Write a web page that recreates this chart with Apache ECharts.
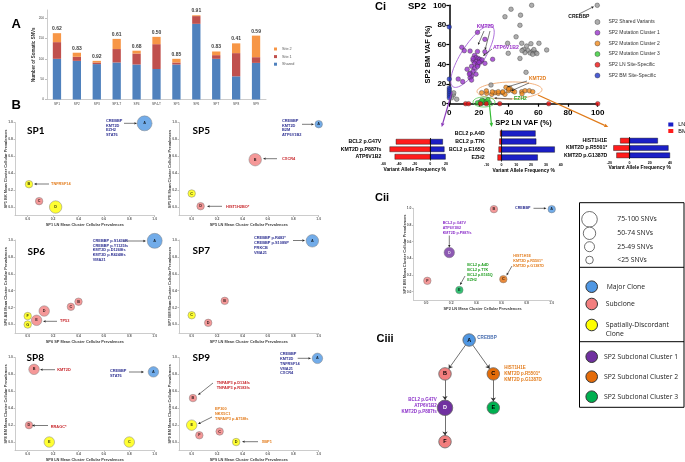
<!DOCTYPE html>
<html><head><meta charset="utf-8">
<script src="https://cdn.jsdelivr.net/npm/echarts@6/dist/echarts.min.js"></script>
<style>html,body{margin:0;padding:0;background:#fff}#c{width:685px;height:462px}</style>
</head><body><div id="c"></div>
<script>
// ---------------- Panel A data ----------------
const samples = ['SP1','SP2','SP3','SP3-T','SP4','SP4-T','SP5','SP6','SP7','SP8','SP9'];
const sharedSNVs = [100,95,87,91,86,75,86,186,100,57,90];
const site1SNVs  = [41,10,4,33,27,61,5,19,9,57,14];
const site2SNVs  = [22,10,4,25,7,18,9,2,9,24,53];
const sharedFraction = ['0.62','0.83','0.92','0.61','0.68','0.50','0.85','0.91','0.83','0.41','0.59'];
const aTicks = [0,50,100,150,200];

// ---------------- Panel B data (cluster id, LN/x prevalence, y prevalence, type, SNVs) ----------------
const sp1Ids=['A','B','C','D'], sp1X=[0.92,0.01,0.09,0.22], sp1Y=[0.99,0.27,0.07,0.00];
const sp1Type=['major','discordant','subclone','discordant'], sp1SNV=[90,15,15,60];
const sp5Ids=['A','B','C','D'], sp5X=[1.00,0.50,0.00,0.07], sp5Y=[0.98,0.56,0.16,0.01];
const sp5Type=['major','subclone','discordant','subclone'], sp5SNV=[15,60,15,15];
const sp6Ids=['A','B','C','D','E','F','G'], sp6X=[1.00,0.40,0.34,0.13,0.07,0.00,0.00], sp6Y=[0.99,0.27,0.21,0.16,0.05,0.10,0.00];
const sp6Type=['major','subclone','subclone','subclone','subclone','discordant','discordant'], sp6SNV=[90,15,15,35,35,15,15];
const sp7Ids=['A','B','C','D'], sp7X=[0.95,0.26,0.00,0.13], sp7Y=[0.99,0.28,0.11,0.02];
const sp7Type=['major','subclone','discordant','subclone'], sp7SNV=[60,15,15,15];
const sp8Ids=['A','B','C','D','E'], sp8X=[0.99,0.05,0.80,0.01,0.17], sp8Y=[0.83,0.86,0.00,0.20,0.00];
const sp8Type=['major','subclone','discordant','subclone','discordant'], sp8SNV=[35,35,35,15,35];
const sp9Ids=['A','B','C','D','E','F'], sp9X=[0.99,0.01,0.22,0.35,0.00,0.06], sp9Y=[0.99,0.52,0.125,0.00,0.20,0.08];
const sp9Type=['major','subclone','subclone','discordant','discordant','subclone'], sp9SNV=[35,15,15,15,35,15];
const ccpTicks=[0,0.2,0.4,0.6,0.8,1.0];

// ---------------- Panel Ci data (LN VAF %, BM VAF %) ----------------
const sharedVar=[[99.7,100],[55.5,100],[41.6,96],[37.5,88.4],[48,90],[47.6,79.7],[45,68],[39.3,61.4],[48.8,61.4],[55,61],[60.4,61.4],[52.1,58.6],[50,55],[53,54],[56,53],[58,52],[54.5,51.5],[51,52],[49,54],[57,55],[59,51],[47.6,46],[56.2,50.2],[65.6,54.6],[39.7,51.2],[51.7,31.9],[28.1,19],[2.7,8.8],[5,4.5],[3,11],[1.5,6]];
const cluster1=[[19,72.5],[24,65.4],[8.4,57.3],[10.1,53.9],[14,53.5],[19,53],[24,52.8],[17,49],[18,47],[19.5,46],[20.5,45],[16,44],[18,43],[21,43],[22,44.5],[17,41],[19,40],[15,38],[17,36],[19,38],[16,33],[14,31],[18,30],[15,28],[29.2,45.1],[24,41],[6,25.1],[9,22.4],[14,26.4],[15,24],[13.5,30.2],[20,42],[16,46],[12,35]];
const cluster2=[[21.8,11.2],[25.2,10.5],[28.6,9.5],[30.8,11.2],[33,10.5],[36,11.2],[37.5,9.5],[25,13],[29,12],[33,12.2],[36,12],[38.2,16.6],[39.8,13.2],[40.9,15.6],[42.7,13.2],[48.8,12.2],[51,13.2],[53.9,13.2],[56.2,12.2],[40,15],[44,12],[49,10]];
const cluster3=[[19,1],[21,2],[22,0.5],[23,3],[24,1.5],[25,2.5],[26,4],[22,3.5],[27,1]];
const lnSpecific=[[11,0],[13,0],[21,0],[25,0],[34,0],[67,0],[100,0]];
const bmSpecific=[[0,78],[0,25],[0,16],[0,14],[0,12],[0,10],[0,8],[0,6]];

// ---------------- VAF butterfly bars ----------------
const c1Genes=['BCL2 p.G47V','KMT2D p.P887fs','ATP6V1B2'], c1LN=[16,18,19.5], c1BM=[44,52,45.5];
const c2Genes=['BCL2 p.A4D','BCL2 p.T7K','BCL2 p.E165Q','EZH2'], c2LN=[23,23.5,36,24.5], c2BM=[1,1.5,2,2.7];
const c3Genes=['HIST1H1E','KMT2D p.R5501*','KMT2D p.G1387D'], c3LN=[28,38.5,40], c3BM=[9.3,16,13];

// ---------------- Panel Cii data ----------------
const ciiIds=['A','B','C','D','E','F'], ciiX=[1.00,0.54,0.615,0.185,0.265,0.01], ciiY=[0.99,0.99,0.15,0.47,0.02,0.13];
const ciiType=['major','subclone','cluster2','cluster1','cluster3','subclone'], ciiSNV=[15,15,15,35,15,15];

// ---------------- Panel Ciii tree ----------------
const treeIds=['A','B','C','D','E','F'], treeCol=[1,0,2,0,2,0], treeDepth=[0,1,1,2,2,3];
const treeType=['major','subclone','cluster2','cluster1','cluster3','subclone'], treeSNV=[15,15,15,35,15,15];
const treeEdges=[['A','B'],['A','C'],['B','D'],['C','E'],['D','F']];

// ================= styling / layout =================
const F='"Liberation Sans", Arial, sans-serif';
const TYPE_COLOR={major:'#4f97e3',subclone:'#f27e7e',discordant:'#ffff00',cluster1:'#7030a0',cluster2:'#e36c09',cluster3:'#00b050'};
function snvSize(n){return n>=75?15:n>=50?12.5:n>=25?10.5:7.5;}
const NAVY='#2e3192', RED='#c8262b', ORANGE='#e37c1c', PURPLE='#9a35c8', GREEN='#2aa52a';

const grids=[
 {left:47,top:10,width:219,height:89.5},
 {left:15,top:122.5,width:139.7,height:93},
 {left:179,top:122.5,width:139.7,height:93},
 {left:15,top:240,width:139.7,height:93},
 {left:179,top:240,width:139.7,height:93},
 {left:15,top:357.5,width:139.7,height:93},
 {left:179,top:357.5,width:139.7,height:93},
 {left:449.3,top:5.3,width:148.4,height:98.4},
 {left:383.3,top:138,width:62.7,height:22.5},
 {left:486.7,top:129.5,width:74,height:32},
 {left:609.3,top:137,width:60.7,height:22},
 {left:413.5,top:208.3,width:138.2,height:91.7},
 {left:445,top:340,width:48.3,height:101.7}
].map(g=>Object.assign({containLabel:false,outerBoundsMode:'none'},g));

const xAxes=[], yAxes=[], series=[];

// ---- A
xAxes.push({gridIndex:0,type:'category',data:samples,axisLine:{lineStyle:{color:'#bfbfbf',width:0.8}},axisTick:{length:2,lineStyle:{color:'#bfbfbf'}},axisLabel:{fontSize:3.2,color:'#404040',margin:3}});
yAxes.push({gridIndex:0,type:'value',min:0,max:220,name:'Number of Somatic SNVs',nameLocation:'middle',nameGap:11,nameMoveOverlap:false,
 nameTextStyle:{fontSize:4.5,color:'#333',fontWeight:'bold'},axisLine:{show:true,lineStyle:{color:'#bfbfbf',width:0.8}},
 axisTick:{show:true,customValues:aTicks,length:2,lineStyle:{color:'#bfbfbf'}},axisLabel:{customValues:aTicks,fontSize:3.2,color:'#404040',margin:3},splitLine:{show:false}});
series.push({type:'bar',name:'Shared',stack:'a',xAxisIndex:0,yAxisIndex:0,data:sharedSNVs,barWidth:8.3,itemStyle:{color:'#4f81bd'}});
series.push({type:'bar',name:'Site 1',stack:'a',xAxisIndex:0,yAxisIndex:0,data:site1SNVs,barWidth:8.3,itemStyle:{color:'#c0504d'}});
series.push({type:'bar',name:'Site 2',stack:'a',xAxisIndex:0,yAxisIndex:0,data:site2SNVs,barWidth:8.3,itemStyle:{color:'#f79646'},
 label:{show:true,position:'top',distance:2,formatter:p=>sharedFraction[p.dataIndex],fontSize:5,fontWeight:'bold',color:'#404040'}});

// ---- B and Cii helper
function ccpAxis(gi,name,isY){
  return {gridIndex:gi,type:'value',min:-0.1,max:1.0,name:name,nameLocation:'middle',nameGap:7,nameMoveOverlap:false,
   nameTextStyle:{fontSize:3.9,fontWeight:'bold',color:'#404040'},
   axisLine:{show:true,onZero:false,lineStyle:{color:'#bfbfbf',width:0.8}},
   axisTick:{show:true,customValues:ccpTicks,length:1.5,lineStyle:{color:'#bfbfbf'}},
   axisLabel:{customValues:ccpTicks,fontSize:3.4,fontWeight:'bold',color:'#595959',margin:2,formatter:v=>v.toFixed(1)},
   splitLine:{show:false}};
}
function clusterSeries(gi,ids,xs,ys,types,snvs){
  return {type:'scatter',xAxisIndex:gi,yAxisIndex:gi,clip:false,z:5,
   data:ids.map((id,i)=>({name:id,value:[xs[i],ys[i]],symbolSize:snvSize(snvs[i]),
     itemStyle:{color:TYPE_COLOR[types[i]]},label:{color:types[i]==='cluster1'?'#fff':'#000'}})),
   itemStyle:{borderColor:'#7f7f7f',borderWidth:0.6},
   label:{show:true,position:'inside',formatter:'{b}',fontSize:3.8,fontWeight:'bold'}};
}
const B=[
 ['SP1 LN Mean Cluster Cellular Prevalences','SP1 BK Mean Cluster Cellular Prevalences',sp1Ids,sp1X,sp1Y,sp1Type,sp1SNV],
 ['SP5 LN Mean Cluster Cellular Prevalences','SP5 PE Mean Cluster Cellular Prevalences',sp5Ids,sp5X,sp5Y,sp5Type,sp5SNV],
 ['SP6 SP Mean Cluster Cellular Prevalences','SP6 AB Mean Cluster Cellular Prevalences',sp6Ids,sp6X,sp6Y,sp6Type,sp6SNV],
 ['SP7 LN Mean Cluster Cellular Prevalences','SP7 BM Mean Cluster Cellular Prevalences',sp7Ids,sp7X,sp7Y,sp7Type,sp7SNV],
 ['SP8 LN Mean Cluster Cellular Prevalences','SP8 BM Mean Cluster Cellular Prevalences',sp8Ids,sp8X,sp8Y,sp8Type,sp8SNV],
 ['SP9 LN Mean Cluster Cellular Prevalences','SP9 BM Mean Cluster Cellular Prevalences',sp9Ids,sp9X,sp9Y,sp9Type,sp9SNV]
];
B.forEach((b,k)=>{const gi=k+1;xAxes.push(ccpAxis(gi,b[0],false));yAxes.push(ccpAxis(gi,b[1],true));series.push(clusterSeries(gi,b[2],b[3],b[4],b[5],b[6]));});

// ---- Ci scatter
const boldAx={fontWeight:'bold',color:'#000',fontFamily:F};
xAxes.push({gridIndex:7,type:'value',min:0,max:100,interval:20,name:'SP2 LN VAF (%)',nameLocation:'middle',nameGap:15,nameMoveOverlap:false,
 nameTextStyle:Object.assign({fontSize:7.5},boldAx),axisLine:{lineStyle:{color:'#000',width:1.5}},axisTick:{length:3,lineStyle:{color:'#000',width:1.2}},
 axisLabel:Object.assign({fontSize:8,margin:5},boldAx),splitLine:{show:false}});
yAxes.push({gridIndex:7,type:'value',min:0,max:100,interval:20,name:'SP2 BM VAF (%)',nameLocation:'middle',nameGap:17,nameMoveOverlap:false,
 nameTextStyle:Object.assign({fontSize:7.5},boldAx),axisLine:{lineStyle:{color:'#000',width:1.5}},axisTick:{length:3,lineStyle:{color:'#000',width:1.2}},
 axisLabel:Object.assign({fontSize:8,margin:3},boldAx),splitLine:{show:false}});
[['SP2 Shared Variants',sharedVar,'#9a9a9a'],['SP2 Mutation Cluster 1',cluster1,'#9933cc'],['SP2 Mutation Cluster 2',cluster2,'#f0891c'],
 ['SP2 Mutation Cluster 3',cluster3,'#33cc33'],['SP2 LN Site-Specific',lnSpecific,'#ee1111'],['SP2 BM Site-Specific',bmSpecific,'#1f34c8']]
.forEach(s=>series.push({type:'scatter',name:s[0],xAxisIndex:7,yAxisIndex:7,data:s[1],symbolSize:4.6,clip:false,z:6,
  itemStyle:{color:s[2],borderColor:'#333',borderWidth:0.5}}));

// ---- butterfly bars
function bfly(gi,genes,ln,bm,min,max,interval,bw){
  xAxes.push({gridIndex:gi,type:'value',min:min,max:max,interval:interval,name:'Variant Allele Frequency %',nameLocation:'middle',nameGap:6.5,nameMoveOverlap:false,
   nameTextStyle:{fontSize:4.9,fontWeight:'bold',color:'#000'},axisLine:{onZero:false,lineStyle:{color:'#000',width:0.8}},
   axisTick:{length:1.5,lineStyle:{color:'#000',width:0.7}},axisLabel:{fontSize:3.6,fontWeight:'bold',color:'#000',margin:1.5},splitLine:{show:false}});
  yAxes.push({gridIndex:gi,type:'category',data:genes,inverse:true,axisLine:{show:false,onZero:false},axisTick:{show:false},
   axisLabel:{fontSize:5.2,fontWeight:'bold',color:'#000',margin:2}});
  series.push({type:'bar',name:'BM',xAxisIndex:gi,yAxisIndex:gi,data:bm.map(v=>-v),barWidth:bw,barGap:'-100%',
   itemStyle:{color:'#ff1c1c',borderColor:'#000',borderWidth:0.4}});
  series.push({type:'bar',name:'LN',xAxisIndex:gi,yAxisIndex:gi,data:ln,barWidth:bw,barGap:'-100%',
   itemStyle:{color:'#1b1fc6',borderColor:'#000',borderWidth:0.4},
   markLine:{silent:true,symbol:'none',animation:false,label:{show:false},lineStyle:{color:'#000',width:0.8,type:'solid'},data:[{xAxis:0}]}});
}
bfly(8,c1Genes,c1LN,c1BM,-60,20,20,5.5);
bfly(9,c2Genes,c2LN,c2BM,-10,40,10,6);
bfly(10,c3Genes,c3LN,c3BM,-20,40,20,5.5);

// ---- Cii
xAxes.push(ccpAxis(11,'SP2 LN Mean Cluster Cellular Prevalences',false));
yAxes.push(ccpAxis(11,'SP2 BM Mean Cluster Cellular Prevalences',true));
series.push(clusterSeries(11,ciiIds,ciiX,ciiY,ciiType,ciiSNV));

// ---- Ciii tree
xAxes.push({gridIndex:12,type:'value',min:0,max:2,show:false});
yAxes.push({gridIndex:12,type:'value',min:0,max:3,inverse:true,show:false});
series.push({type:'graph',layout:'none',coordinateSystem:'cartesian2d',xAxisIndex:12,yAxisIndex:12,z:5,
 data:treeIds.map((id,i)=>({name:id,value:[treeCol[i],treeDepth[i]],symbolSize:snvSize(treeSNV[i])+5,
   itemStyle:{color:TYPE_COLOR[treeType[i]]},label:{color:treeType[i]==='cluster1'?'#fff':'#000'}})),
 links:treeEdges.map(e=>({source:e[0],target:e[1]})),
 edgeSymbol:['none','arrow'],edgeSymbolSize:[0,4],
 lineStyle:{color:'#333',width:0.7,opacity:1},
 itemStyle:{borderColor:'#666',borderWidth:0.8},
 label:{show:true,position:'inside',formatter:'{b}',fontSize:5.5,fontWeight:'bold'}});

// ================= annotations =================
const G=[];
function T(x,y,text,color,size,o){o=o||{};const va=o.va||'top',al=o.align||'left';
 G.push({type:'text',x:x,y:y,z:50,silent:true,style:{text:text,fill:color,font:(o.w||'bold')+' '+size+'px '+(o.fam||F),
  lineHeight:o.lh||size*1.2,textAlign:al,textVerticalAlign:va,align:al,verticalAlign:va}});}
function AR(x1,y1,x2,y2,color,w,head){color=color||'#222';w=w||0.6;head=head||2.6;
 const a=Math.atan2(y2-y1,x2-x1),hx=x2-head*Math.cos(a),hy=y2-head*Math.sin(a),px=-Math.sin(a)*head*0.45,py=Math.cos(a)*head*0.45;
 G.push({type:'line',z:49,silent:true,shape:{x1:x1,y1:y1,x2:hx,y2:hy},style:{stroke:color,lineWidth:w}});
 G.push({type:'polygon',z:49,silent:true,shape:{points:[[x2,y2],[hx+px,hy+py],[hx-px,hy-py]]},style:{fill:color}});}
function EL(cx,cy,rx,ry,rot,color){G.push({type:'ellipse',x:cx,y:cy,rotation:rot,z:4,silent:true,shape:{cx:0,cy:0,rx:rx,ry:ry},style:{fill:'none',stroke:color,lineWidth:0.8}});}

// panel letters & titles
T(11.5,24.5,'A','#000',13,{va:'middle'}); T(11.5,105,'B','#000',13,{va:'middle'});
T(375,7,'Ci','#000',11,{va:'middle'}); T(408,6.5,'SP2','#000',9.5,{va:'middle'});
T(375,198,'Cii','#000',11,{va:'middle'}); T(376.5,338.5,'Ciii','#000',11,{va:'middle'});
[['SP1',27,131],['SP5',192.5,131],['SP6',27.5,252],['SP7',192.5,251],['SP8',26.5,357.5],['SP9',192.5,358]]
 .forEach(t=>T(t[1],t[2],t[0],'#000',10,{va:'middle',fam:'Lato, '+F}));

const bs=3.9, blh=4.7;
// SP1
T(106,118.6,'CREBBP\nKMT2D\nEZH2\nSTAT6',NAVY,bs,{lh:blh}); AR(124,123.3,137,123.3);
T(51,181.7,'TNFRSF14',ORANGE,bs,{lh:blh}); AR(49,184,34,184);
// SP5
T(282,118.4,'CREBBP\nKMT2D\nB2M\nATP6V1B2',NAVY,bs,{lh:blh}); AR(302,124.3,314,124.3);
T(282,156.4,'CXCR4',RED,bs,{lh:blh}); AR(277,158.7,263,158.7);
T(226,204.2,'HIST1H2BO*',RED,bs,{lh:blh}); AR(222,206.3,207,206.3);
// SP6
T(92.7,238.6,'CREBBP p.S1436R\nCREBBP p.Y1125fs\nKMT2D p.D1268fs\nKMT2D p.R4248fs\nVMA21',NAVY,bs,{lh:blh}); AR(123,241,146,241);
T(60,319,'TP53',RED,bs,{lh:blh}); AR(57,321.3,43,321.3);
// SP7
T(254,236,'CREBBP p.R483*\nCREBBP p.S1089P\nPRKCB\nVMA21',NAVY,bs,{lh:blh}); AR(293,240.5,305,240.5);
// SP8
T(57.3,367.4,'KMT2D',RED,bs,{lh:blh}); AR(55,369.7,40,369.7);
T(110,369,'CREBBP\nSTAT6',NAVY,bs,{lh:blh}); AR(129,372,144,372);
T(50.7,424.3,'RRAGC*',RED,bs,{lh:blh}); AR(48,425.5,32,425.5);
// SP9
T(280,352,'CREBBP\nKMT2D\nTNFRSF14\nVMA21\nCXCR4',NAVY,bs,{lh:blh}); AR(297.7,358.3,311,358.3);
T(216.7,380.4,'TNFAIP3 p.D134fs\nTNFAIP3 p.R183fs',RED,bs,{lh:blh}); AR(213,383,198,395);
T(215,407,'EP300\nNKX5C1\nTNFAIP3 p.A758fs',ORANGE,bs,{lh:blh}); AR(212,417,198,424);
T(261.7,439.4,'XBP1',ORANGE,bs,{lh:blh}); AR(258,441.7,242,441.7);

// Ci ellipses / labels / arrows
EL(472.5,56.5,36,11.5,1.0,'#a45fd6'); EL(509.5,90.5,32.5,8.5,0.03,'#f0a060'); EL(484,102,11,5,0,'#55cc55');
T(476.7,26.7,'KMT2D',PURPLE,5,{va:'middle'}); AR(484,31,478,45,'#222',0.6); AR(490,31,485,50,'#222',0.6);
T(493,47.7,'ATP6V1B2',PURPLE,5.2,{va:'middle'}); AR(492,49,483,56,'#222',0.6);
T(529,78.3,'KMT2D',ORANGE,5,{va:'middle'}); AR(527,81,507,87,'#222',0.6); AR(529,83,511,91,'#222',0.6);
T(514,99,'EZH2',GREEN,5,{va:'middle'}); AR(512,99,494,98,'#222',0.6);
T(568.3,17,'CREBBP','#111',5,{va:'middle'}); AR(579,14,594,6.5,'#222',0.6);
AR(452,92,441.7,127,'#8a3ab9',1.2,4); AR(489,100,491.7,127,'#33bb33',1.2,4); AR(538,95,608.3,127,'#e07b1a',1.2,4);

// Cii labels
const cs=3.7, clh=5;
T(515,208.3,'CREBBP',NAVY,cs,{va:'middle'}); AR(533.5,208.3,546.5,208.3);
T(442.7,220.3,'BCL2 p.G47V\nATP6V1B2\nKMT2D p.P887fs','#8b2fc9',cs,{lh:clh}); AR(449.3,235.5,449.3,247.5);
T(467.3,262.5,'BCL2 p.A4D\nBCL2 p.T7K\nBCL2 p.E165Q\nEZH2','#1f9e1f',cs,{lh:clh}); AR(465,276,460,285);
T(513.3,253.5,'HIST1H1E\nKMT2D p.R5501*\nKMT2D p.G1387D',ORANGE,cs,{lh:clh}); AR(512,266,506.5,275.5);

// Ciii labels
T(477.3,337.7,'CREBBP','#4a6fb0',4.6,{va:'middle'});
T(504.3,364.3,'HIST1H1E\nKMT2D p.R5501*\nKMT2D p.G1387D',ORANGE,4.5,{lh:6});
T(436.7,396.3,'BCL2 p.G47V\nATP6V1B2\nKMT2D p.P887fs','#8b2fc9',4.5,{lh:6,align:'right'});

// Cii legend box
G.push({type:'rect',z:10,silent:true,shape:{x:579.5,y:202.7,width:104.5,height:204.6},style:{fill:'#fff',stroke:'#000',lineWidth:1}});
G.push({type:'line',z:11,silent:true,shape:{x1:579.5,y1:267.3,x2:684,y2:267.3},style:{stroke:'#000',lineWidth:1}});
G.push({type:'line',z:11,silent:true,shape:{x1:579.5,y1:341.7,x2:684,y2:341.7},style:{stroke:'#000',lineWidth:1}});
const LF='"Open Sans", '+F;
[[219.3,7.8,'75-100 SNVs'],[233.3,6.2,'50-74 SNVs'],[246.7,5,'25-49 SNVs'],[260,3.8,'<25 SNVs']].forEach(r=>{
 G.push({type:'circle',z:11,silent:true,shape:{cx:589.5,cy:r[0],r:r[1]},style:{fill:'#fff',stroke:'#333',lineWidth:0.7}});
 T(617.3,r[0],r[2],'#222',6.8,{va:'middle',w:'normal',fam:LF});});
[[286.7,'#4f97e3','Major Clone',606.7],[304,'#f27e7e','Subclone',605.7],[325,'#ffff00','Spatially-Discordant\nClone',605.7],
 [356.7,'#7030a0','SP2 Subclonal Cluster 1',604],[376.7,'#e46c0a','SP2 Subclonal Cluster 2',604],[396.7,'#00b050','SP2 Subclonal Cluster 3',604]].forEach(r=>{
 G.push({type:'circle',z:11,silent:true,shape:{cx:591.7,cy:r[0],r:5.8},style:{fill:r[1],stroke:'#333',lineWidth:1}});
 T(r[3],r[0]+(r[2].indexOf('\n')>0?4.5:0),r[2],'#222',6.8,{va:'middle',w:'normal',fam:LF,lh:9.8});});

const option={
 animation:false,backgroundColor:'#fff',textStyle:{fontFamily:F},
 grid:grids,xAxis:xAxes,yAxis:yAxes,series:series,
 legend:[
  {data:['Site 2','Site 1','Shared'],orient:'vertical',left:274,top:47,padding:0,itemWidth:3,itemHeight:3,itemGap:3.6,icon:'rect',
   textStyle:{fontSize:3.8,color:'#595959'},selectedMode:false},
  {data:['SP2 Shared Variants','SP2 Mutation Cluster 1','SP2 Mutation Cluster 2','SP2 Mutation Cluster 3','SP2 LN Site-Specific','SP2 BM Site-Specific'],
   orient:'vertical',left:594.7,top:19,padding:0,itemWidth:12,itemHeight:5,itemGap:4.7,icon:'circle',
   itemStyle:{borderColor:'#333',borderWidth:0.5},textStyle:{fontSize:5,color:'#333',lineHeight:6},selectedMode:false},
  {data:['LN','BM'],orient:'vertical',left:668.3,top:121.5,padding:0,itemWidth:5,itemHeight:4,itemGap:0.5,icon:'rect',
   itemStyle:{borderWidth:0},textStyle:{fontSize:5.5,lineHeight:5.5,color:'#000'},selectedMode:false}
 ],
 graphic:{elements:G}
};
const chart=echarts.init(document.getElementById('c'),null,{renderer:'canvas'});
chart.setOption(option);
</script></body></html>
